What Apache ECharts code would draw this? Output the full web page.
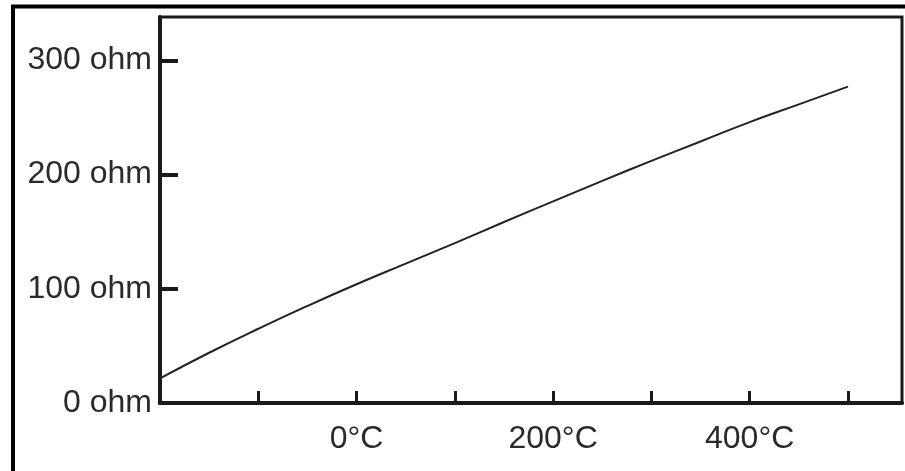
<!DOCTYPE html>
<html>
<head>
<meta charset="utf-8">
<script src="https://cdn.jsdelivr.net/npm/echarts@6/dist/echarts.min.js"></script>
<style>
html,body{margin:0;padding:0;background:#fff;}
#chart{width:905px;height:471px;}
</style>
</head>
<body>
<div id="chart"></div>
<script>
// Temperature (°C) and resistance (ohm)
const temperatures = [-200, -150, -100, -50, 0, 50, 100, 150, 200, 250, 300, 350, 400, 450, 500];
const resistances  = [21.5, 44, 65, 85, 104, 122, 140, 158.5, 176.5, 194.5, 212, 229, 246, 261.5, 277];
const xTickValues  = [-100, 0, 100, 200, 300, 400, 500];
const xLabelValues = [0, 200, 400];
const yTickValues  = [0, 100, 200, 300];

const chart = echarts.init(document.getElementById('chart'), null, {renderer: 'canvas'});
const FONT = '"Liberation Sans", Arial, sans-serif';
chart.setOption({
  animation: false,
  backgroundColor: '#fff',
  grid: {
    left: 160, top: 17, right: 3, bottom: 68,
    show: true, borderColor: '#1a1a1a', borderWidth: 3, backgroundColor: 'transparent'
  },
  xAxis: {
    type: 'value', min: -200, max: 555, interval: 100,
    axisLine: {show: true, onZero: false, lineStyle: {color: '#1a1a1a', width: 4}},
    axisTick: {show: true, inside: true, length: 12, customValues: xTickValues,
      lineStyle: {color: '#1a1a1a', width: 3}},
    axisLabel: {show: true, customValues: xLabelValues, margin: 20,
      formatter: v => v + '°C', color: '#2a2a2a', fontSize: 32, fontFamily: FONT},
    splitLine: {show: false}
  },
  yAxis: {
    type: 'value', min: 0, max: 338, interval: 100,
    axisLine: {show: true, onZero: false, lineStyle: {color: '#1a1a1a', width: 4}},
    axisTick: {show: true, inside: true, length: 18, customValues: yTickValues,
      lineStyle: {color: '#1a1a1a', width: 4}},
    axisLabel: {show: true, customValues: yTickValues, margin: 8,
      formatter: v => v + ' ohm', color: '#2a2a2a', fontSize: 32, fontFamily: FONT},
    splitLine: {show: false}
  },
  series: [{
    type: 'line',
    data: temperatures.map((t, i) => [t, resistances[i]]),
    showSymbol: false, smooth: true,
    lineStyle: {color: '#222', width: 2}
  }],
  graphic: [
    {type: 'line', shape: {x1: 13, y1: 6, x2: 13, y2: 471}, style: {stroke: '#000', lineWidth: 4}},
    {type: 'line', shape: {x1: 11, y1: 6.5, x2: 905, y2: 6.5}, style: {stroke: '#000', lineWidth: 4}}
  ]
});
</script>
</body>
</html>
